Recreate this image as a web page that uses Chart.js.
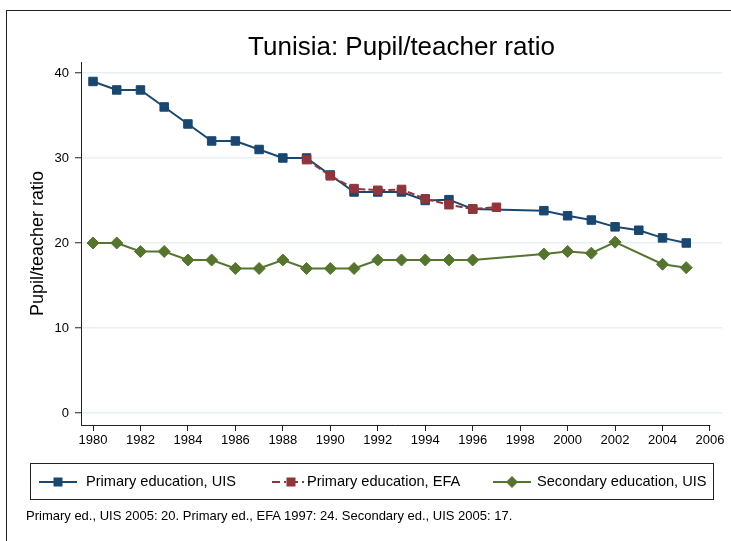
<!DOCTYPE html>
<html><head><meta charset="utf-8">
<script src="https://cdn.jsdelivr.net/npm/chart.js@4/dist/chart.umd.min.js"></script>
<style>
html,body{margin:0;padding:0;background:#fff;}
#wrap{position:relative;width:731px;height:541px;overflow:hidden;font-family:"Liberation Sans",Arial,Helvetica,sans-serif;color:#000;}
#frame{position:absolute;left:6px;top:10px;width:900px;height:700px;border-left:1px solid #222;border-top:1px solid #222;}
#c{position:absolute;left:0;top:0;}
#title{position:absolute;left:81px;top:33px;width:641px;text-align:center;font-size:26px;line-height:26px;white-space:nowrap;}
#legend{position:absolute;left:30px;top:463px;width:682px;height:35px;border:1px solid #222;}
.item{position:absolute;top:0;height:35px;}
.item svg{position:absolute;top:10px;left:0;}
.item span{position:absolute;top:9px;font-size:14.6px;line-height:16px;white-space:nowrap;}
#note{position:absolute;left:26px;top:508px;font-size:13px;line-height:16px;white-space:nowrap;}
</style></head>
<body>
<div id="wrap">
  <div id="frame"></div>
  <canvas id="c" width="731" height="541"></canvas>
  <div id="title">Tunisia: Pupil/teacher ratio</div>
  <div id="legend">
    <div class="item" style="left:7px"><svg width="40" height="16"><line x1="1" y1="8" x2="39" y2="8" stroke="#1a476f" stroke-width="2"/><rect x="15.5" y="3.5" width="9" height="9" fill="#1a476f"/></svg><span style="left:48px">Primary education, UIS</span></div>
    <div class="item" style="left:240px"><svg width="40" height="16"><line x1="1" y1="8" x2="39" y2="8" stroke="#90353b" stroke-width="2" stroke-dasharray="8,4,2,4"/><rect x="15.5" y="3.5" width="9" height="9" fill="#90353b"/></svg><span style="left:36px">Primary education, EFA</span></div>
    <div class="item" style="left:461px"><svg width="40" height="16"><line x1="1" y1="8" x2="39" y2="8" stroke="#55752f" stroke-width="2"/><polygon points="20,2 26,8 20,14 14,8" fill="#55752f"/></svg><span style="left:45px">Secondary education, UIS</span></div>
  </div>
  <div id="note">Primary ed., UIS 2005: 20. Primary ed., EFA 1997: 24. Secondary ed., UIS 2005: 17.</div>
</div>
<script>
// ---- data ----
const years        = [1980,1981,1982,1983,1984,1985,1986,1987,1988,1989,1990,1991,1992,1993,1994,1995,1996,1997,1998,1999,2000,2001,2002,2003,2004,2005];
const primaryUIS   = [39,38,38,36,34,32,32,31,30,30,28,26,26,26,25,25.1,24,null,null,23.8,23.2,22.7,21.9,21.5,20.6,20];
const primaryEFA   = [null,null,null,null,null,null,null,null,null,29.8,27.9,26.4,26.2,26.3,25.2,24.5,24.0,24.2,null,null,null,null,null,null,null,null];
const secondaryUIS = [20,20,19,19,18,18,17,17,18,17,17,17,18,18,18,18,18,null,null,18.7,19,18.8,20.1,null,17.5,17.1];
const xTickValues  = [1980,1982,1984,1986,1988,1990,1992,1994,1996,1998,2000,2002,2004,2006];
const yTickValues  = [0,10,20,30,40];

const pts = arr => years.map((yr,i)=>({x:yr,y:arr[i]})).filter(p=>p.y!==null);
const FONT = '"Liberation Sans", Arial, sans-serif';

const xAxisLine = {
  id:'xAxisLine',
  beforeDatasetsDraw(chart){
    const {ctx, chartArea, scales} = chart;
    ctx.save();
    ctx.strokeStyle = '#222'; ctx.lineWidth = 1;
    ctx.beginPath();
    const y = Math.round(chartArea.bottom)+0.5;
    ctx.moveTo(chartArea.left, y);
    ctx.lineTo(scales.x.getPixelForValue(2006)+0.5, y);
    ctx.stroke();
    ctx.restore();
  }
};

new Chart(document.getElementById('c'), {
  type:'line',
  data:{ datasets:[
    { label:'Primary education, UIS', data:pts(primaryUIS), borderColor:'#1a476f', backgroundColor:'#1a476f',
      borderWidth:2, pointStyle:'rect', pointRadius:6, pointBorderWidth:1, pointBackgroundColor:'#1a476f', pointBorderColor:'#1a476f', order:2, tension:0 },
    { label:'Primary education, EFA', data:pts(primaryEFA), borderColor:'#90353b', backgroundColor:'#90353b',
      borderWidth:2, borderDash:[7,3], pointStyle:'rect', pointRadius:6, pointBorderWidth:1, pointBackgroundColor:'#90353b', pointBorderColor:'#90353b', order:1, tension:0 },
    { label:'Secondary education, UIS', data:pts(secondaryUIS), borderColor:'#55752f', backgroundColor:'#55752f',
      borderWidth:2, pointStyle:'rectRot', pointRadius:6, pointBorderWidth:1, pointBackgroundColor:'#55752f', pointBorderColor:'#55752f', order:3, tension:0 }
  ]},
  options:{
    responsive:false, animation:false, events:[],
    layout:{ padding:{ left:0, right:9, top:62, bottom:86 } },
    plugins:{ legend:{display:false}, title:{display:false}, tooltip:{enabled:false} },
    scales:{
      x:{ type:'linear', min:1979.494, max:2006.506,
        afterBuildTicks: s => { s.ticks = xTickValues.map(v=>({value:v})); },
        afterFit: s => { s.height = 30; },
        ticks:{ font:{family:FONT,size:13}, color:'#000', padding:2, maxRotation:0, autoSkip:false, callback:v=>String(v) },
        grid:{ drawOnChartArea:false, drawTicks:true, tickLength:6, tickColor:'#222', tickWidth:1 },
        border:{ display:false }
      },
      y:{ min:-1.41, max:41.29,
        afterBuildTicks: s => { s.ticks = yTickValues.map(v=>({value:v})); },
        afterFit: s => { s.width = 81; },
        ticks:{ font:{family:FONT,size:13}, color:'#000', padding:6, callback:v=>String(v) },
        grid:{ color:'#e8f0f2', lineWidth:1.5, tickColor:'#222', tickLength:6, tickWidth:1 },
        border:{ display:true, color:'#222', width:1 },
        title:{ display:true, text:'Pupil/teacher ratio', font:{family:FONT,size:18}, color:'#000', padding:{top:27,bottom:0} }
      }
    }
  },
  plugins:[xAxisLine]
});
</script>
</body></html>
